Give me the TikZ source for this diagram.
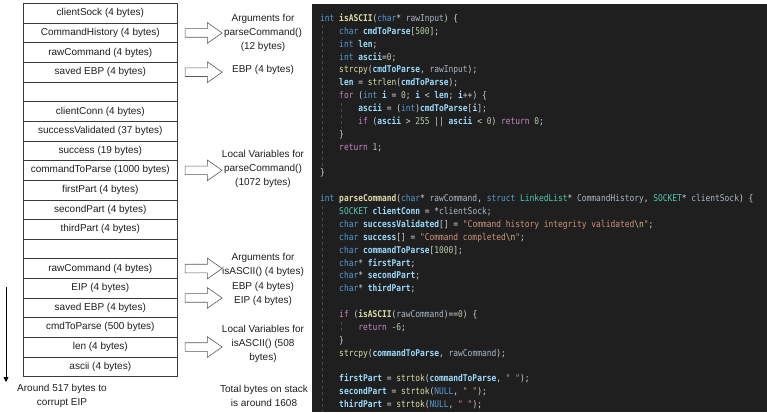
\documentclass[tikz,border=0pt]{standalone}
\usepackage{fontspec}
\setmainfont{Liberation Sans}
\newfontfamily\codefont[FakeStretch=0.85]{DejaVu Sans Mono}
\usetikzlibrary{
  arrows.meta,
  positioning,
  shapes.arrows
}
\definecolor{slotline}{HTML}{3A3A3A}
\definecolor{labeltext}{HTML}{1E1E1E}
\definecolor{codebg}{HTML}{1F1F1F}
\definecolor{codefg}{HTML}{D4D4D4}
\definecolor{guide}{HTML}{4A4A4A}
\definecolor{hkw}{HTML}{569CD6}
\definecolor{hctl}{HTML}{C586C0}
\definecolor{hfn}{HTML}{DCDCAA}
\definecolor{hvar}{HTML}{9CDCFE}
\definecolor{hpar}{HTML}{A9B7C6}
\definecolor{hnum}{HTML}{B5CEA8}
\definecolor{hstr}{HTML}{CE9178}
\definecolor{hesc}{HTML}{D7BA7D}
\definecolor{htype}{HTML}{4EC9B0}

% code highlighting
\newcommand{\hlkw}[1]{\textcolor{hkw}{#1}}
\newcommand{\hlctl}[1]{\textcolor{hctl}{#1}}
\newcommand{\hlfn}[1]{\textcolor{hfn}{\bfseries #1}}
\newcommand{\hlcall}[1]{\textcolor{hfn}{#1}}
\newcommand{\hlvar}[1]{\textcolor{hvar}{\bfseries #1}}
\newcommand{\hlpar}[1]{\textcolor{hpar}{#1}}
\newcommand{\hlnum}[1]{\textcolor{hnum}{#1}}
\newcommand{\hlstr}[1]{\textcolor{hstr}{#1}}
\newcommand{\hlesc}[1]{\textcolor{hesc}{#1}}
\newcommand{\hltype}[1]{\textcolor{htype}{#1}}
\newcommand{\indt}{\phantom{0000}}

\begin{document}
\begin{tikzpicture}[
  x=1pt, y=-1pt,
  slot/.style={
    draw=slotline, fill=white, line width=0.6pt,
    minimum width=154pt, minimum height=19.63pt,
    inner sep=0pt, outer sep=0pt,
    font=\fontsize{10}{12}\selectfont, text=labeltext
  },
  blockarrow/.style={
    single arrow, draw=black!65, fill=white, line width=0.6pt,
    minimum height=37pt, minimum width=20pt,
    inner xsep=0pt, inner ysep=4pt,
    single arrow head extend=6pt, single arrow tip angle=70
  },
  note/.style={
    align=center, inner sep=0pt, text=labeltext,
    font=\fontsize{10}{14.3}\selectfont
  },
  codetext/.style={
    align=left, inner sep=0pt, text=codefg,
    font=\codefont\fontsize{9.3}{12.87}\selectfont\frenchspacing
  }
]
\useasboundingbox (0,0) rectangle (767,412);

% Stack frames
\node[slot, anchor=north] (r1) at (100.3,3.5) {clientSock (4 bytes)};
\node[slot, below=0pt of r1] (r2) {CommandHistory (4 bytes)};
\node[slot, below=0pt of r2] (r3) {rawCommand (4 bytes)};
\node[slot, below=0pt of r3] (r4) {saved EBP (4 bytes)};
\node[slot, below=0pt of r4] (r5) {};
\node[slot, below=0pt of r5] (r6) {clientConn (4 bytes)};
\node[slot, below=0pt of r6] (r7) {successValidated (37 bytes)};
\node[slot, below=0pt of r7] (r8) {success (19 bytes)};
\node[slot, below=0pt of r8] (r9) {commandToParse (1000 bytes)};
\node[slot, below=0pt of r9] (r10) {firstPart (4 bytes)};
\node[slot, below=0pt of r10] (r11) {secondPart (4 bytes)};
\node[slot, below=0pt of r11] (r12) {thirdPart (4 bytes)};
\node[slot, below=0pt of r12] (r13) {};
\node[slot, below=0pt of r13] (r14) {rawCommand (4 bytes)};
\node[slot, below=0pt of r14] (r15) {EIP (4 bytes)};
\node[slot, below=0pt of r15] (r16) {saved EBP (4 bytes)};
\node[slot, below=0pt of r16] (r17) {cmdToParse (500 bytes)};
\node[slot, below=0pt of r17] (r18) {len (4 bytes)};
\node[slot, below=0pt of r18] (r19) {ascii (4 bytes)};

% Pointer arrows
\node[blockarrow, right=7.5pt of r2] (a1) {};
\node[blockarrow, right=7.5pt of r4] (a2) {};
\node[blockarrow, right=7.5pt of r9] (a3) {};
\node[blockarrow, right=7.5pt of r14] (a4) {};
\node[blockarrow, right=7.5pt of r15.south east] (a5) {};
\node[blockarrow, right=7.5pt of r18] (a6) {};

% Region notes
\node[note] (l1) at (263,33) {Arguments for\\parseCommand()\\(12 bytes)};
\node[note] (l2) at (263,70) {EBP (4 bytes)};
\node[note] (l3) at (263,169) {Local Variables for\\parseCommand()\\(1072 bytes)};
\node[note] (l4) at (263,265) {Arguments for\\isASCII() (4 bytes)};
\node[note] (l5) at (263,294) {EBP (4 bytes)\\EIP (4 bytes)};
\node[note] (l6) at (263,344) {Local Variables for\\isASCII() (508\\bytes)};
\node[note] (total) at (264,396) {Total bytes on stack\\is around 1608};

% Overflow direction
\coordinate (ovtop) at (6,287);
\coordinate (ovbot) at (6,382);
\draw[line width=0.8pt, -{Triangle[length=5pt,width=5pt]}] (ovtop) -- (ovbot);
\node[note] (eip) at (62,396) {Around 517 bytes to\\corrupt EIP};

% Source listing
\fill[codebg] (312,4) rectangle (767,412);
\draw[guide, dashed, line width=0.5pt] (322,25) -- (322,167);
\draw[guide, dashed, line width=0.5pt] (341,103) -- (341,128);
\draw[guide, dashed, line width=0.5pt] (322,206) -- (322,412);
\draw[guide, dashed, line width=0.5pt] (341,322) -- (341,334);
\node[codetext, anchor=base west] (code) at (320,407.6) {%
\hlkw{int} \hlfn{isASCII}(\hlkw{char}* \hlpar{rawInput}) \{\\
\indt\hlkw{char} \hlvar{cmdToParse}[\hlnum{500}];\\
\indt\hlkw{int} \hlvar{len};\\
\indt\hlkw{int} \hlvar{ascii}=\hlnum{0};\\
\indt\hlcall{strcpy}(\hlvar{cmdToParse}, \hlpar{rawInput});\\
\indt\hlvar{len} = \hlcall{strlen}(\hlvar{cmdToParse});\\
\indt\hlctl{for} (\hlkw{int} \hlvar{i} = \hlnum{0}; \hlvar{i} < \hlvar{len}; \hlvar{i}++) \{\\
\indt\indt\hlvar{ascii} = (\hlkw{int})\hlvar{cmdToParse}[\hlvar{i}];\\
\indt\indt\hlctl{if} (\hlvar{ascii} > \hlnum{255} || \hlvar{ascii} < \hlnum{0}) \hlctl{return} \hlnum{0};\\
\indt\}\\
\indt\hlctl{return} \hlnum{1};\\
\mbox{}\\
\}\\
\mbox{}\\
\hlkw{int} \hlfn{parseCommand}(\hlkw{char}* \hlpar{rawCommand}, \hlkw{struct} \hltype{LinkedList}* \hlpar{CommandHistory}, \hltype{SOCKET}* \hlpar{clientSock}) \{\\
\indt\hltype{SOCKET} \hlvar{clientConn} = *\hlpar{clientSock};\\
\indt\hlkw{char} \hlvar{successValidated}[] = \hlstr{"Command history integrity validated}\hlesc{\textbackslash n}\hlstr{"};\\
\indt\hlkw{char} \hlvar{success}[] = \hlstr{"Command completed}\hlesc{\textbackslash n}\hlstr{"};\\
\indt\hlkw{char} \hlvar{commandToParse}[\hlnum{1000}];\\
\indt\hlkw{char}* \hlvar{firstPart};\\
\indt\hlkw{char}* \hlvar{secondPart};\\
\indt\hlkw{char}* \hlvar{thirdPart};\\
\mbox{}\\
\indt\hlctl{if} (\hlfn{isASCII}(\hlpar{rawCommand})==\hlnum{0}) \{\\
\indt\indt\hlctl{return} -\hlnum{6};\\
\indt\}\\
\indt\hlcall{strcpy}(\hlvar{commandToParse}, \hlpar{rawCommand});\\
\mbox{}\\
\indt\hlvar{firstPart} = \hlcall{strtok}(\hlvar{commandToParse}, \hlstr{" "});\\
\indt\hlvar{secondPart} = \hlcall{strtok}(\hlkw{NULL}, \hlstr{" "});\\
\indt\hlvar{thirdPart} = \hlcall{strtok}(\hlkw{NULL}, \hlstr{" "});};

\end{tikzpicture}
\end{document}
